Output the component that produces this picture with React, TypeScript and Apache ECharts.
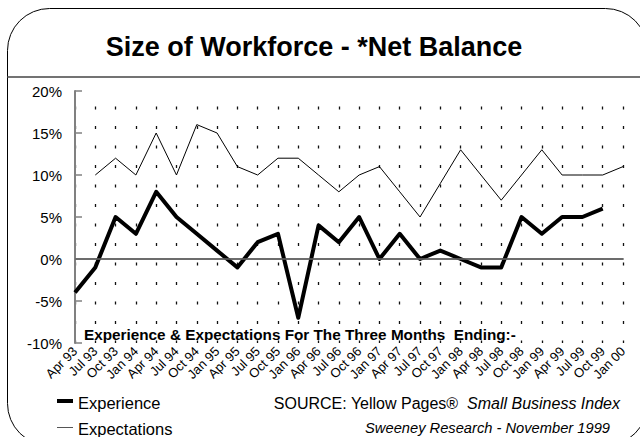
import React, { useEffect, useRef } from "react";
import * as echarts from "echarts";

const FONT = '"Liberation Sans", Arial, sans-serif';

const categories = [
  "Apr 93", "Jul 93", "Oct 93", "Jan 94", "Apr 94", "Jul 94", "Oct 94",
  "Jan 95", "Apr 95", "Jul 95", "Oct 95", "Jan 96", "Apr 96", "Jul 96",
  "Oct 96", "Jan 97", "Apr 97", "Jul 97", "Oct 97", "Jan 98", "Apr 98",
  "Jul 98", "Oct 98", "Jan 99", "Apr 99", "Jul 99", "Oct 99", "Jan 00",
];

const experience = [
  -4, -1, 5, 3, 8, 5, 3, 1, -1, 2, 3, -7, 4, 2, 5, 0, 3, 0, 1, 0, -1, -1, 5, 3, 5, 5, 6, null,
];

const expectations = [
  null, 10, 12, 10, 15, 10, 16, 15, 11, 10, 12, 12, 10, 8, 10, 11, 8, 5, 9, 13, 10, 7, 10, 13, 10, 10, 10, 11,
];

const seriesNames = ["Experience", "Expectations"];

const yMin = -10;
const yMax = 20;
const yStep = 5;

export default function App() {
  const ref = useRef<HTMLDivElement>(null);
  useEffect(() => {
    if (!ref.current) return;
    const chart = echarts.init(ref.current, undefined, { renderer: "svg" });
    chart.setOption({
      animation: false,
      backgroundColor: "#fff",
      textStyle: { fontFamily: FONT },
      grid: { left: 75, right: 17, top: 91, bottom: 94 },
      xAxis: {
        type: "category",
        data: categories,
        boundaryGap: false,
        axisLine: { show: true, lineStyle: { color: "#808080", width: 2 } },
        axisTick: { show: false },
        axisLabel: { rotate: 45, interval: 0, fontSize: 13, color: "#000", margin: 6, fontFamily: FONT },
        splitLine: {
          show: true,
          lineStyle: { color: "#111", width: 1.3, type: [3, 16.5], dashOffset: 4.3 },
        },
      },
      yAxis: {
        type: "value",
        min: yMin,
        max: yMax,
        interval: yStep,
        axisLine: { show: true, lineStyle: { color: "#808080", width: 2 } },
        axisTick: { show: true, inside: true, length: 7, lineStyle: { color: "#808080", width: 1.5 } },
        axisLabel: { formatter: "{value}%", fontSize: 15, color: "#000", margin: 13, fontFamily: FONT },
        splitLine: { show: false },
      },
      series: [
        {
          name: seriesNames[0],
          type: "line",
          data: experience,
          symbol: "none",
          lineStyle: { color: "#000", width: 4, join: "round" },
          itemStyle: { color: "#000" },
          markLine: {
            silent: true,
            symbol: ["none", "none"],
            label: { show: false },
            lineStyle: { color: "#666", width: 1.5, type: "solid" },
            data: [{ yAxis: 0 }],
          },
          z: 3,
        },
        {
          name: seriesNames[1],
          type: "line",
          data: expectations,
          symbol: "none",
          lineStyle: { color: "#000", width: 1 },
          itemStyle: { color: "#000" },
          z: 2,
        },
      ],
      graphic: [
        {
          type: "rect",
          shape: { x: 7.5, y: 8.5, width: 640, height: 437, r: 42 },
          style: { fill: "none", stroke: "#000", lineWidth: 1 },
          silent: true,
        },
        {
          type: "line",
          shape: { x1: 7, y1: 77, x2: 640, y2: 77 },
          style: { stroke: "#444", lineWidth: 1.5 },
          silent: true,
        },
        {
          type: "text",
          x: 314,
          y: 47,
          style: {
            text: "Size of Workforce - *Net Balance",
            fontSize: 27,
            fontWeight: "bold",
            fontFamily: FONT,
            fill: "#000",
            align: "center",
            verticalAlign: "middle",
          },
        },
        {
          type: "text",
          x: 84,
          y: 334,
          style: {
            text: "Experience & Expectations For The Three Months  Ending:-",
            fontSize: 15.3,
            fontWeight: "bold",
            fontFamily: FONT,
            fill: "#000",
            align: "left",
            verticalAlign: "middle",
          },
          z: 10,
        },
        {
          type: "line",
          shape: { x1: 57, y1: 401, x2: 73, y2: 401 },
          style: { stroke: "#000", lineWidth: 4 },
        },
        {
          type: "text",
          x: 78,
          y: 403,
          style: {
            text: seriesNames[0],
            fontSize: 16.5,
            fontFamily: FONT,
            fill: "#000",
            align: "left",
            verticalAlign: "middle",
          },
        },
        {
          type: "line",
          shape: { x1: 57, y1: 427.5, x2: 73, y2: 427.5 },
          style: { stroke: "#555", lineWidth: 1 },
        },
        {
          type: "text",
          x: 78,
          y: 429,
          style: {
            text: seriesNames[1],
            fontSize: 16.5,
            fontFamily: FONT,
            fill: "#000",
            align: "left",
            verticalAlign: "middle",
          },
        },
        {
          type: "text",
          x: 620,
          y: 403,
          style: {
            text: "SOURCE: Yellow Pages®  {i|Small Business Index}",
            fontSize: 16,
            fontFamily: FONT,
            fill: "#000",
            align: "right",
            verticalAlign: "middle",
            rich: { i: { fontSize: 16, fontStyle: "italic", fontFamily: FONT, fill: "#000" } },
          },
        },
        {
          type: "text",
          x: 610,
          y: 428,
          style: {
            text: "Sweeney Research - November 1999",
            fontSize: 14.7,
            fontStyle: "italic",
            fontFamily: FONT,
            fill: "#000",
            align: "right",
            verticalAlign: "middle",
          },
        },
      ],
    });
    return () => chart.dispose();
  }, []);
  return (
    <div
      ref={ref}
      style={{ position: "fixed", left: 0, top: 0, width: 640, height: 437, background: "#fff" }}
    />
  );
}
